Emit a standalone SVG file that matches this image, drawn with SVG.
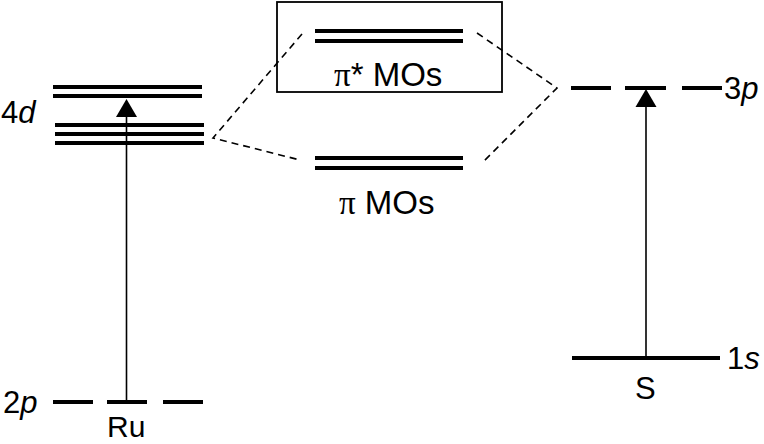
<svg xmlns="http://www.w3.org/2000/svg" width="764" height="444" viewBox="0 0 764 444">
<defs>
<style>
.lvl{stroke:#000;stroke-width:4;fill:none}
.dsh{stroke:#000;stroke-width:1.6;fill:none;stroke-dasharray:7 5}
.arr{stroke:#000;stroke-width:1.6;fill:none}
.t{font-family:"Liberation Sans",Arial,sans-serif;font-size:31px;fill:#000}
.m{font-size:33px}
.pi{font-family:"Liberation Serif","Times New Roman",serif}
</style>
</defs>
<rect width="764" height="444" fill="#fff"/>
<g id="ru-4d">
<line class="lvl" x1="53" y1="87" x2="202" y2="87"/>
<line class="lvl" x1="53" y1="96" x2="202" y2="96"/>
<line class="lvl" x1="55" y1="125" x2="204" y2="125"/>
<line class="lvl" x1="55" y1="134" x2="204" y2="134"/>
<line class="lvl" x1="55" y1="143" x2="204" y2="143"/>
<text class="t" x="1" y="123">4<tspan font-style="italic">d</tspan></text>
</g>
<g id="ru-2p">
<line class="lvl" x1="53" y1="402" x2="93" y2="402"/>
<line class="lvl" x1="107" y1="402" x2="147" y2="402"/>
<line class="lvl" x1="163" y1="402" x2="203" y2="402"/>
<text class="t" x="3" y="413">2<tspan font-style="italic">p</tspan></text>
<text class="t" x="107" y="437" style="font-size:30px">Ru</text>
</g>
<g id="pistar">
<rect x="277" y="2" width="225" height="90" fill="none" stroke="#000" stroke-width="1.8"/>
<line class="lvl" x1="315" y1="31" x2="463" y2="31"/>
<line class="lvl" x1="315" y1="41" x2="463" y2="41"/>
<text class="t m" x="334" y="86"><tspan class="pi">π</tspan>* MOs</text>
</g>
<g id="pi">
<line class="lvl" x1="315" y1="158" x2="463" y2="158"/>
<line class="lvl" x1="315" y1="168" x2="463" y2="168"/>
<text class="t m" x="339" y="214"><tspan class="pi">π</tspan> MOs</text>
</g>
<g id="s-3p">
<line class="lvl" x1="571" y1="88" x2="611" y2="88"/>
<line class="lvl" x1="625" y1="88" x2="666" y2="88"/>
<line class="lvl" x1="682" y1="88" x2="722" y2="88"/>
<text class="t" x="724" y="99">3<tspan font-style="italic">p</tspan></text>
</g>
<g id="s-1s">
<line class="lvl" x1="572" y1="358" x2="720" y2="358"/>
<text class="t" x="727" y="369">1<tspan font-style="italic">s</tspan></text>
<text class="t" x="635" y="399">S</text>
</g>
<g id="connectors">
<polyline class="dsh" points="302,34 213,138 300,160"/>
<polyline class="dsh" points="477,33 557,88 482,163"/>
<line class="arr" x1="126.5" y1="402" x2="126.5" y2="115"/>
<polygon points="126.5,99 116,117 137,117" fill="#000"/>
<line class="arr" x1="646" y1="358" x2="646" y2="105"/>
<polygon points="646,89 635.5,107 656.5,107" fill="#000"/>
</g>
</svg>
